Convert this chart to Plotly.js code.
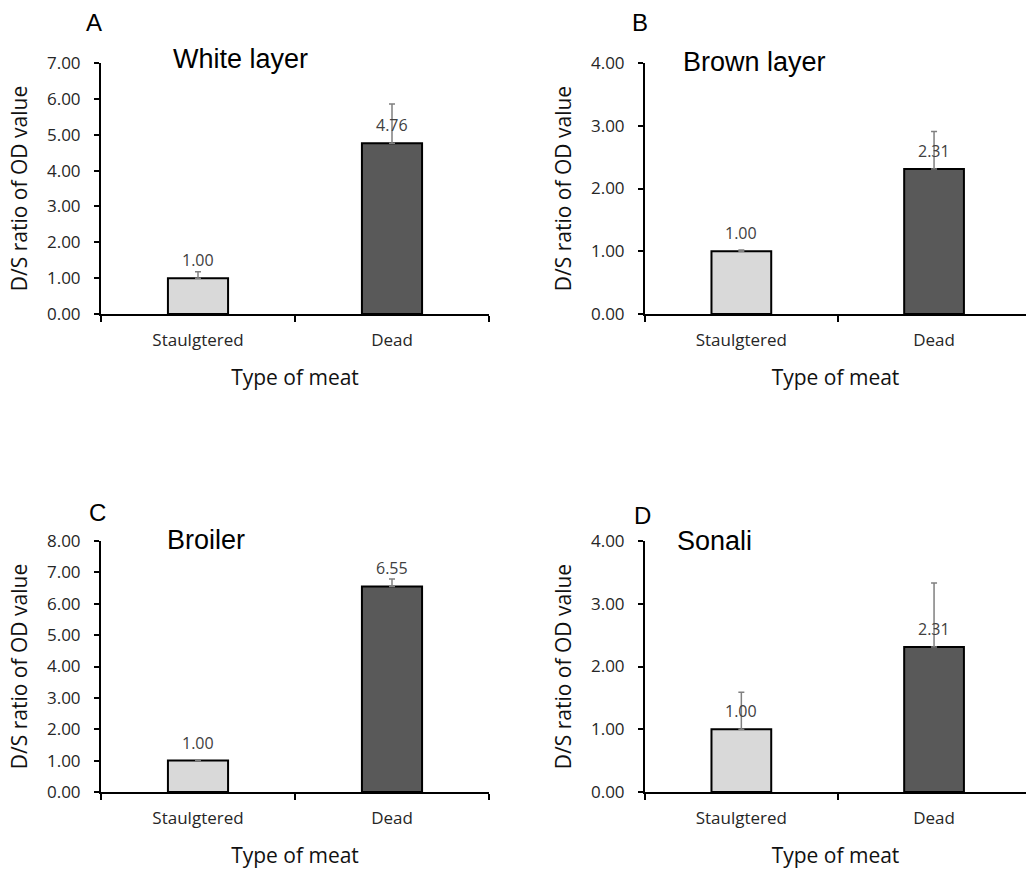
<!DOCTYPE html>
<html>
<head>
<meta charset="utf-8">
<script src="https://cdn.plot.ly/plotly-3.0.1.min.js"></script>
<style>html,body{margin:0;padding:0;background:#fff;}#chart{width:1026px;height:872px;}</style>
</head>
<body>
<div id="chart"></div>
<script>
// ---- data ----
var categories = ['Staulgtered', 'Dead'];
var whiteLayer = [1.00, 4.76];
var whiteLayerErr = [0.18, 1.10];
var brownLayer = [1.00, 2.31];
var brownLayerErr = [0.02, 0.60];
var broiler = [1.00, 6.55];
var broilerErr = [0.02, 0.24];
var sonali = [1.00, 2.31];
var sonaliErr = [0.59, 1.02];
var panelTitles = ['White layer', 'Brown layer', 'Broiler', 'Sonali'];
var panelLetters = ['A', 'B', 'C', 'D'];
var yMax = [7, 4, 8, 4];
var yTitle = 'D/S ratio of OD value';
var xTitle = 'Type of meat';

// ---- layout helpers ----
var W = 1026, H = 872;
function px(x) { return x / W; }
function py(y) { return 1 - y / H; }
var barColors = ['#d9d9d9', '#595959'];
var tickFont = {family: 'Open Sans, sans-serif', size: 17, color: '#262626'};
var titleFont = {family: 'Open Sans, sans-serif', size: 21, color: '#111'};

var series = [whiteLayer, brownLayer, broiler, sonali];
var errs = [whiteLayerErr, brownLayerErr, broilerErr, sonaliErr];
var axIds = ['', '2', '3', '4'];

var traces = [];
var annotations = [];
for (var i = 0; i < 4; i++) {
  traces.push({
    type: 'bar',
    x: categories,
    y: series[i],
    xaxis: 'x' + axIds[i],
    yaxis: 'y' + axIds[i],
    marker: {color: barColors, line: {color: '#000', width: 2}},
    error_y: {type: 'data', symmetric: false, array: errs[i], arrayminus: [0, 0],
              color: '#808080', thickness: 1.5, width: 3},
    showlegend: false,
    hoverinfo: 'x+y'
  });
  for (var j = 0; j < categories.length; j++) {
    annotations.push({
      xref: 'x' + axIds[i], yref: 'y' + axIds[i],
      x: categories[j], y: series[i][j],
      text: series[i][j].toFixed(2), showarrow: false,
      yanchor: 'middle', yshift: 18,
      font: {family: 'Open Sans, sans-serif', size: 16, color: '#404040'}
    });
  }
}

// panel titles and letters (pixel positions)
var titlePos = [[240, 59], [754, 62], [206, 540], [714, 541]];
var letterPos = [[94, 22], [640, 23], [97, 512], [642, 515]];
for (var k = 0; k < 4; k++) {
  annotations.push({xref: 'paper', yref: 'paper', x: px(titlePos[k][0]), y: py(titlePos[k][1]),
    xanchor: 'center', yanchor: 'middle', showarrow: false, text: panelTitles[k],
    font: {family: 'Liberation Sans, Arial, sans-serif', size: 27, color: '#000'}});
  annotations.push({xref: 'paper', yref: 'paper', x: px(letterPos[k][0]), y: py(letterPos[k][1]),
    xanchor: 'center', yanchor: 'middle', showarrow: false, text: panelLetters[k],
    font: {family: 'Liberation Sans, Arial, sans-serif', size: 24, color: '#000'}});
}

function xAxis(dom, rng, anchor) {
  return {domain: dom, anchor: anchor, range: rng, type: 'category',
    showline: true, linecolor: '#000', linewidth: 2, ticks: 'outside', ticklen: 6,
    tickwidth: 2, tickcolor: '#000', tickson: 'boundaries', showgrid: false,
    zeroline: false, tickfont: tickFont, ticklabelstandoff: 10,
    title: {text: xTitle, font: titleFont, standoff: 20}, fixedrange: true};
}
function yAxis(dom, maxV, anchor) {
  return {domain: dom, anchor: anchor, range: [0, maxV], dtick: 1, tick0: 0,
    tickformat: '.2f', showline: true, linecolor: '#000', linewidth: 2,
    ticks: 'outside', ticklen: 5, tickwidth: 2, tickcolor: '#000',
    showgrid: false, zeroline: false, tickfont: tickFont, ticklabelstandoff: 10,
    title: {text: yTitle, font: titleFont, standoff: 14}, fixedrange: true};
}

var xL = [px(101), px(489)];
var xR = [px(645), 1];
var yT = [py(314), py(63)];
var yB = [py(792), py(541)];
var rL = [-0.5, 1.5];
var rR = [-0.5, -0.5 + (1026 - 645) / 192.7];

var layout = {
  width: W, height: H,
  margin: {l: 0, r: 0, t: 0, b: 0},
  paper_bgcolor: '#fff', plot_bgcolor: '#fff',
  bargap: 0.69,
  xaxis: xAxis(xL, rL, 'y'), yaxis: yAxis(yT, yMax[0], 'x'),
  xaxis2: xAxis(xR, rR, 'y2'), yaxis2: yAxis(yT, yMax[1], 'x2'),
  xaxis3: xAxis(xL, rL, 'y3'), yaxis3: yAxis(yB, yMax[2], 'x3'),
  xaxis4: xAxis(xR, rR, 'y4'), yaxis4: yAxis(yB, yMax[3], 'x4'),
  annotations: annotations
};

Plotly.newPlot('chart', traces, layout, {displayModeBar: false, staticPlot: true});
</script>
</body>
</html>
